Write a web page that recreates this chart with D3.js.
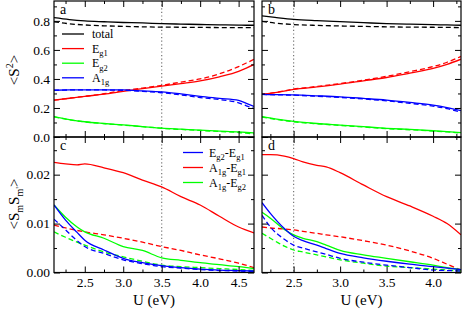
<!DOCTYPE html>
<html>
<head>
<meta charset="utf-8">
<script src="https://cdn.jsdelivr.net/npm/d3@7"></script>
<style>
  body { margin: 0; background: #fff; }
  svg { display: block; }
  svg text { font-family: "Liberation Serif", "Times New Roman", Times, "DejaVu Serif", "Noto Serif", serif; }
</style>
</head>
<body>
<script>
var W = 463, H = 309;

// ---- data: panel a (left top) ----
var uA = [2.1, 2.3, 2.5, 2.75, 3.0, 3.25, 3.5, 3.75, 4.0, 4.25, 4.5, 4.6, 4.7];
var aTotal     = [0.822, 0.809, 0.800, 0.794, 0.789, 0.786, 0.781, 0.778, 0.775, 0.773, 0.771, 0.770, 0.770];
var aTotalDash = [0.794, 0.780, 0.772, 0.766, 0.762, 0.759, 0.757, 0.756, 0.755, 0.754, 0.753, 0.753, 0.753];
var aEg1       = [0.254, 0.267, 0.280, 0.295, 0.315, 0.333, 0.350, 0.368, 0.387, 0.415, 0.452, 0.475, 0.500];
var aEg1Dash   = [0.254, 0.267, 0.280, 0.298, 0.320, 0.337, 0.356, 0.378, 0.400, 0.435, 0.485, 0.510, 0.535];
var aEg2       = [0.140, 0.120, 0.105, 0.093, 0.083, 0.072, 0.061, 0.054, 0.047, 0.041, 0.035, 0.031, 0.028];
var aEg2Dash   = [0.139, 0.119, 0.104, 0.092, 0.082, 0.071, 0.060, 0.052, 0.045, 0.038, 0.031, 0.026, 0.022];
var aA1g       = [0.322, 0.324, 0.325, 0.325, 0.324, 0.318, 0.311, 0.297, 0.280, 0.266, 0.252, 0.232, 0.210];
var aA1gDash   = [0.322, 0.324, 0.325, 0.324, 0.322, 0.314, 0.305, 0.290, 0.272, 0.258, 0.235, 0.215, 0.196];

// ---- data: panel b (right top) ----
var uB = [2.16, 2.3, 2.5, 2.75, 3.0, 3.25, 3.5, 3.75, 4.0, 4.15, 4.3];
var bTotal     = [0.834, 0.824, 0.811, 0.802, 0.795, 0.788, 0.781, 0.777, 0.774, 0.772, 0.770];
var bTotalDash = [0.797, 0.785, 0.775, 0.769, 0.765, 0.762, 0.759, 0.757, 0.756, 0.755, 0.754];
var bEg1       = [0.293, 0.305, 0.328, 0.345, 0.364, 0.387, 0.410, 0.440, 0.472, 0.500, 0.536];
var bEg1Dash   = [0.293, 0.306, 0.330, 0.348, 0.368, 0.392, 0.418, 0.450, 0.485, 0.515, 0.555];
var bEg2       = [0.140, 0.125, 0.108, 0.093, 0.082, 0.071, 0.060, 0.052, 0.043, 0.037, 0.030];
var bEg2Dash   = [0.138, 0.122, 0.105, 0.091, 0.080, 0.069, 0.058, 0.050, 0.041, 0.035, 0.027];
var bA1g       = [0.293, 0.292, 0.290, 0.284, 0.277, 0.266, 0.254, 0.238, 0.220, 0.203, 0.182];
var bA1gDash   = [0.293, 0.291, 0.288, 0.281, 0.273, 0.262, 0.249, 0.232, 0.213, 0.195, 0.170];

// ---- data: panel c (left bottom) ----
var uC = [2.1, 2.25, 2.4, 2.5, 2.75, 3.0, 3.25, 3.5, 3.75, 4.0, 4.25, 4.5, 4.7];
var cEg2Eg1     = [0.0138, 0.0107, 0.0082, 0.0066, 0.0046, 0.0029, 0.0020, 0.0014, 0.0010, 0.0007, 0.0005, 0.0004, 0.0003];
var cEg2Eg1Dash = [0.0109, 0.0087, 0.0065, 0.0053, 0.0039, 0.0026, 0.0018, 0.0012, 0.0009, 0.0006, 0.0004, 0.0003, 0.0002];
var cA1gEg1     = [0.0225, 0.0222, 0.0220, 0.0222, 0.0214, 0.0204, 0.0189, 0.0175, 0.0155, 0.0138, 0.0115, 0.0093, 0.0081];
var cA1gEg1Dash = [0.0097, 0.0091, 0.0086, 0.0083, 0.0077, 0.0070, 0.0062, 0.0053, 0.0045, 0.0036, 0.0028, 0.0019, 0.0010];
var cA1gEg2     = [0.0138, 0.0113, 0.0093, 0.0083, 0.0070, 0.0053, 0.0045, 0.0030, 0.0025, 0.0020, 0.0016, 0.0012, 0.0008];
var cA1gEg2Dash = [0.0083, 0.0072, 0.0062, 0.0056, 0.0042, 0.0032, 0.0023, 0.0015, 0.0012, 0.0010, 0.0008, 0.0006, 0.0004];

// ---- data: panel d (right bottom) ----
var uD = [2.16, 2.25, 2.4, 2.5, 2.6, 2.75, 2.85, 3.0, 3.25, 3.5, 3.75, 4.0, 4.15, 4.3];
var dEg2Eg1     = [0.0143, 0.0121, 0.0090, 0.0074, 0.0065, 0.0056, 0.0049, 0.0039, 0.0030, 0.0023, 0.0017, 0.0012, 0.0009, 0.0006];
var dEg2Eg1Dash = [0.0117, 0.0093, 0.0068, 0.0056, 0.0050, 0.0042, 0.0037, 0.0029, 0.0021, 0.0015, 0.0010, 0.0005, 0.0004, 0.0003];
var dA1gEg1     = [0.0241, 0.0241, 0.0238, 0.0233, 0.0226, 0.0219, 0.0216, 0.0204, 0.0179, 0.0155, 0.0136, 0.0115, 0.0100, 0.0077];
var dA1gEg1Dash = [0.0093, 0.0091, 0.0089, 0.0087, 0.0084, 0.0080, 0.0077, 0.0073, 0.0065, 0.0056, 0.0044, 0.0029, 0.0017, 0.0005];
var dA1gEg2     = [0.0123, 0.0111, 0.0088, 0.0077, 0.0070, 0.0063, 0.0056, 0.0045, 0.0036, 0.0029, 0.0022, 0.0015, 0.0010, 0.0006];
var dA1gEg2Dash = [0.0080, 0.0070, 0.0054, 0.0046, 0.0042, 0.0036, 0.0032, 0.0026, 0.0019, 0.0013, 0.0010, 0.0007, 0.0005, 0.0003];

// ticks
var xTicksL = [2.5, 3.0, 3.5, 4.0, 4.5];
var xMinorL = [2.25, 2.75, 3.25, 3.75, 4.25];
var xTicksR = [2.5, 3.0, 3.5, 4.0];
var xMinorR = [2.25, 2.75, 3.25, 3.75, 4.25];
var yTicksTop = [0, 0.2, 0.4, 0.6, 0.8];
var yMinorTop = [0.1, 0.3, 0.5, 0.7, 0.9];
var yTicksBot = [0, 0.01, 0.02];
var yMinorBot = [0.005, 0.015, 0.025];
var markerU = [3.5, 2.5]; // dotted lines, left / right column

var RED = "#ff0000", GREEN = "#00ff00", BLUE = "#0000ff", BLACK = "#000000";

var svg = d3.select("body").append("svg").attr("width", W).attr("height", H);

// scales
var xL = d3.scaleLinear().domain([2.1, 4.7]).range([54, 254]);
var xR = d3.scaleLinear().domain([2.16, 4.3]).range([262, 461]);
var yTop = d3.scaleLinear().domain([0, 0.937]).range([137, 1]);
var yBot = d3.scaleLinear().domain([0, 0.0277]).range([272.5, 137]);

var panels = [
  { id: "a", x: xL, y: yTop, u: uA, mark: markerU[0], xt: xTicksL, xm: xMinorL, yt: yTicksTop, ym: yMinorTop,
    showX: false, showY: true, yfmt: d3.format(".1f"),
    series: [
      [aTotal, BLACK, false], [aTotalDash, BLACK, true],
      [aEg1, RED, false], [aEg1Dash, RED, true],
      [aEg2, GREEN, false], [aEg2Dash, GREEN, true],
      [aA1g, BLUE, false], [aA1gDash, BLUE, true]
    ] },
  { id: "b", x: xR, y: yTop, u: uB, mark: markerU[1], xt: xTicksR, xm: xMinorR, yt: yTicksTop, ym: yMinorTop,
    showX: false, showY: false, yfmt: d3.format(".1f"),
    series: [
      [bTotal, BLACK, false], [bTotalDash, BLACK, true],
      [bEg1, RED, false], [bEg1Dash, RED, true],
      [bEg2, GREEN, false], [bEg2Dash, GREEN, true],
      [bA1g, BLUE, false], [bA1gDash, BLUE, true]
    ] },
  { id: "c", x: xL, y: yBot, u: uC, mark: markerU[0], xt: xTicksL, xm: xMinorL, yt: yTicksBot, ym: yMinorBot,
    showX: true, showY: true, yfmt: d3.format(".2f"),
    series: [
      [cA1gEg1, RED, false], [cA1gEg1Dash, RED, true],
      [cA1gEg2, GREEN, false], [cA1gEg2Dash, GREEN, true],
      [cEg2Eg1, BLUE, false], [cEg2Eg1Dash, BLUE, true]
    ] },
  { id: "d", x: xR, y: yBot, u: uD, mark: markerU[1], xt: xTicksR, xm: xMinorR, yt: yTicksBot, ym: yMinorBot,
    showX: true, showY: false, yfmt: d3.format(".2f"),
    series: [
      [dA1gEg1, RED, false], [dA1gEg1Dash, RED, true],
      [dA1gEg2, GREEN, false], [dA1gEg2Dash, GREEN, true],
      [dEg2Eg1, BLUE, false], [dEg2Eg1Dash, BLUE, true]
    ] }
];

function styleAxis(g) {
  g.attr("font-family", null);
  g.select(".domain").remove();
  g.selectAll("text").attr("font-size", 13.5).attr("fill", "#000");
  g.selectAll("line").attr("stroke", "#000").attr("stroke-width", 1);
}

panels.forEach(function (p) {
  var x0 = p.x.range()[0], x1 = p.x.range()[1];
  var yb = p.y.range()[0], yt = p.y.range()[1];

  svg.append("clipPath").attr("id", "clip-" + p.id)
    .append("rect").attr("x", x0).attr("y", yt).attr("width", x1 - x0).attr("height", yb - yt);

  var body = svg.append("g").attr("clip-path", "url(#clip-" + p.id + ")");

  // dotted marker line
  body.append("line")
    .attr("x1", p.x(p.mark)).attr("x2", p.x(p.mark))
    .attr("y1", yt).attr("y2", yb)
    .attr("stroke", "#777").attr("stroke-width", 1.2).attr("stroke-dasharray", "1.2,2.4");

  var line = d3.line()
    .x(function (d, i) { return p.x(p.u[i]); })
    .y(function (d) { return p.y(d); })
    .curve(d3.curveMonotoneX);

  p.series.forEach(function (s) {
    body.append("path")
      .attr("d", line(s[0]))
      .attr("fill", "none")
      .attr("stroke", s[1])
      .attr("stroke-width", 1.3)
      .attr("stroke-dasharray", s[2] ? "5,3" : null);
  });

  // axes with inward ticks on all sides
  var fx = p.showX ? d3.format(".1f") : "";
  var fy = p.showY ? p.yfmt : "";
  svg.append("g").attr("transform", "translate(0," + yb + ")")
    .call(d3.axisBottom(p.x).tickValues(p.xt).tickSize(-6).tickPadding(5).tickFormat(fx)).call(styleAxis);
  svg.append("g").attr("transform", "translate(0," + yb + ")")
    .call(d3.axisBottom(p.x).tickValues(p.xm).tickSize(-3).tickFormat("")).call(styleAxis);
  svg.append("g").attr("transform", "translate(0," + yt + ")")
    .call(d3.axisTop(p.x).tickValues(p.xt).tickSize(-6).tickFormat("")).call(styleAxis);
  svg.append("g").attr("transform", "translate(0," + yt + ")")
    .call(d3.axisTop(p.x).tickValues(p.xm).tickSize(-3).tickFormat("")).call(styleAxis);
  svg.append("g").attr("transform", "translate(" + x0 + ",0)")
    .call(d3.axisLeft(p.y).tickValues(p.yt).tickSize(-6).tickPadding(4).tickFormat(fy)).call(styleAxis);
  svg.append("g").attr("transform", "translate(" + x0 + ",0)")
    .call(d3.axisLeft(p.y).tickValues(p.ym).tickSize(-3).tickFormat("")).call(styleAxis);
  svg.append("g").attr("transform", "translate(" + x1 + ",0)")
    .call(d3.axisRight(p.y).tickValues(p.yt).tickSize(-6).tickFormat("")).call(styleAxis);
  svg.append("g").attr("transform", "translate(" + x1 + ",0)")
    .call(d3.axisRight(p.y).tickValues(p.ym).tickSize(-3).tickFormat("")).call(styleAxis);

  // frame
  svg.append("rect")
    .attr("x", x0).attr("y", yt).attr("width", x1 - x0).attr("height", yb - yt)
    .attr("fill", "none").attr("stroke", "#000").attr("stroke-width", 1.2);

  // panel letter
  svg.append("text")
    .attr("x", x0 + 6).attr("y", yt + 13)
    .attr("font-size", 14)
    .text(p.id);

  if (p.showX) {
    svg.append("text")
      .attr("x", (x0 + x1) / 2).attr("y", 305)
      .attr("text-anchor", "middle")
      .attr("font-size", 15)
      .text("U (eV)");
  }
});

// legends
function addLegend(items, lx0, lx1, tx, y0, dy) {
  items.forEach(function (it, i) {
    var y = y0 + i * dy;
    svg.append("line").attr("x1", lx0).attr("x2", lx1).attr("y1", y).attr("y2", y)
      .attr("stroke", it.color).attr("stroke-width", 1.3);
    var t = svg.append("text").attr("x", tx).attr("y", y + 4)
      .attr("font-size", 12);
    it.parts.forEach(function (part) {
      var sp = t.append("tspan").text(part[0]);
      if (part[1] === "sub") sp.attr("dy", 3.5).attr("font-size", 8.5);
      if (part[1] === "up") sp.attr("dy", -3.5);
    });
  });
}

addLegend([
  { color: BLACK, parts: [["total"]] },
  { color: RED, parts: [["E"], ["g1", "sub"]] },
  { color: GREEN, parts: [["E"], ["g2", "sub"]] },
  { color: BLUE, parts: [["A"], ["1g", "sub"]] }
], 62, 84, 92, 34, 14.6);

addLegend([
  { color: BLUE, parts: [["E"], ["g2", "sub"], ["-E", "up"], ["g1", "sub"]] },
  { color: RED, parts: [["A"], ["1g", "sub"], ["-E", "up"], ["g1", "sub"]] },
  { color: GREEN, parts: [["A"], ["1g", "sub"], ["-E", "up"], ["g2", "sub"]] }
], 183, 203, 209, 152.5, 15);

// y titles
var t1 = svg.append("text")
  .attr("transform", "translate(19,70) rotate(-90)")
  .attr("text-anchor", "middle")
  .attr("font-size", 15);
t1.append("tspan").text("<S");
t1.append("tspan").text("2").attr("font-size", 10).attr("dy", -6);
t1.append("tspan").text(">").attr("dy", 6);

var t2 = svg.append("text")
  .attr("transform", "translate(19,204) rotate(-90)")
  .attr("text-anchor", "middle")
  .attr("font-size", 15);
t2.append("tspan").text("<S");
t2.append("tspan").text("m").attr("font-size", 10).attr("dy", 4);
t2.append("tspan").text("S").attr("dy", -4);
t2.append("tspan").text("m'").attr("font-size", 10).attr("dy", 4);
t2.append("tspan").text(">").attr("dy", -4);
</script>
</body>
</html>
